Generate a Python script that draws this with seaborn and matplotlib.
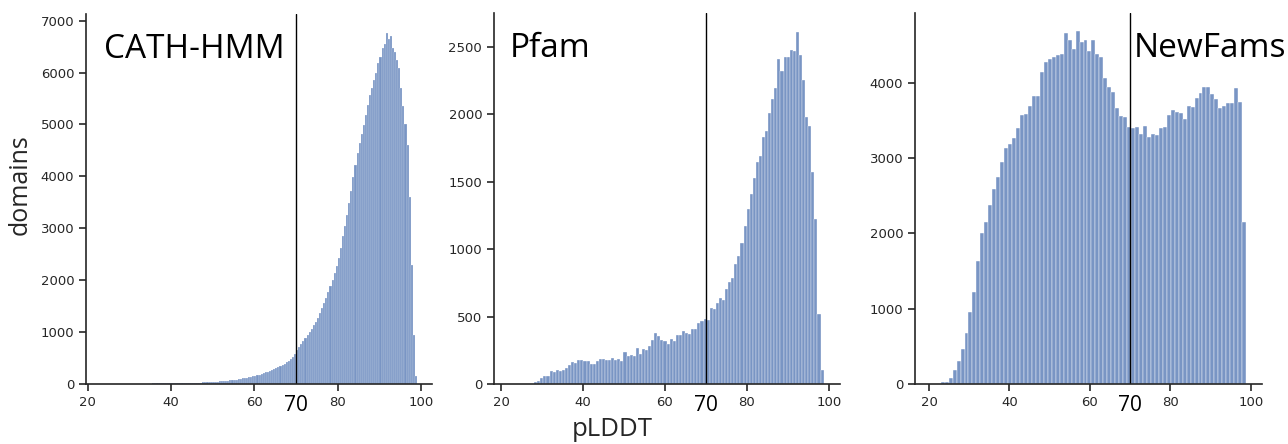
import numpy as np
import pandas as pd
import matplotlib
matplotlib.use("Agg")
import matplotlib.pyplot as plt
import matplotlib.transforms as mtransforms
import seaborn as sns

# pLDDT histograms per domain set (counts)
cath_edges = np.arange(25.0, 99.01, 0.5)
cath_counts = [
    1, 1, 2, 2, 2, 3, 3, 3, 4, 4,
    4, 5, 5, 6, 6, 7, 7, 8, 8, 9,
    9, 10, 10, 11, 11, 12, 12, 13, 13, 14,
    14, 15, 16, 16, 17, 18, 18, 19, 20, 21,
    22, 23, 25, 26, 28, 30, 32, 34, 36, 39,
    41, 44, 47, 50, 54, 57, 61, 65, 70, 75,
    80, 86, 92, 99, 106, 114, 122, 131, 140, 150,
    160, 170, 182, 195, 208, 222, 236, 250, 265, 282,
    300, 320, 342, 366, 392, 420, 450, 482, 520, 570,
    660, 720, 770, 820, 880, 940, 1000, 1060, 1130, 1200,
    1280, 1370, 1460, 1560, 1660, 1770, 1880, 2000, 2130, 2270,
    2420, 2620, 2850, 3050, 3260, 3480, 3720, 3980, 4220, 4450,
    4650, 4820, 4980, 5180, 5380, 5570, 5700, 5850, 6000, 6180,
    6300, 6480, 6550, 6760, 6650, 6700, 6480, 6400, 6250, 6080,
    5700, 5350, 5000, 4600, 3600, 2300, 950, 150,
]

pfam_edges = np.linspace(28.1, 98.7, 95)
pfam_counts = [
    15, 25, 42, 57, 62, 94, 87, 107, 97, 104,
    119, 144, 161, 156, 181, 178, 171, 174, 146, 151,
    174, 185, 183, 178, 176, 196, 176, 188, 171, 235,
    211, 218, 208, 265, 220, 257, 255, 280, 324, 381,
    359, 324, 317, 295, 334, 317, 363, 366, 393, 381,
    371, 411, 406, 453, 467, 480, 477, 567, 557, 601,
    641, 621, 705, 755, 787, 890, 947, 1046, 1170, 1298,
    1407, 1528, 1642, 1691, 1832, 1877, 2010, 2114, 2191, 2406,
    2322, 2421, 2426, 2475, 2468, 2611, 2438, 2253, 1976, 1912,
    1570, 1222, 522, 102,
]

newfam_edges = np.linspace(22.9, 98.85, 78)
newfam_counts = [
    22, 33, 80, 180, 312, 460, 678, 955, 1220, 1631,
    1999, 2158, 2375, 2588, 2743, 2942, 3129, 3182, 3261, 3398,
    3575, 3580, 3687, 3824, 3824, 4147, 4279, 4319, 4342, 4364,
    4386, 4657, 4568, 4444, 4683, 4537, 4563, 4422, 4568, 4382,
    4338, 4067, 3939, 3881, 3664, 3558, 3541, 3416, 3402, 3416,
    3318, 3425, 3275, 3322, 3305, 3394, 3416, 3571, 3637, 3611,
    3594, 3514, 3691, 3673, 3801, 3867, 3947, 3947, 3850, 3784,
    3660, 3691, 3727, 3736, 3926, 3748, 2153,
]

titles = ["CATH-HMM", "Pfam", "NewFams"]
cutoff = 70

sns.set_theme(style="ticks")
plt.rcParams["font.family"] = ["DejaVu Sans"]

fig = plt.figure(figsize=(12.88, 4.44), dpi=100)
W, H = 1288, 444

# axes boxes in pixels: left, top, width, height
boxes = [(86, 14, 346, 370), (494, 13, 346, 371), (915, 13, 347, 371)]
xlims = [(19.6, 102.6), (18.3, 102.7), (16.5, 102.8)]
ylims = [7128, 2750, 4927]
yticks = [np.arange(0, 7001, 1000), np.arange(0, 2501, 500), np.arange(0, 4001, 1000)]
title_x = [23.9, 22.2, 71.0]

panels = [(cath_edges, cath_counts), (pfam_edges, pfam_counts), (newfam_edges, newfam_counts)]

for i, (edges, counts) in enumerate(panels):
    l, t, w, h = boxes[i]
    ax = fig.add_axes([l / W, (H - t - h) / H, w / W, h / H])
    df = pd.DataFrame({"plddt": (edges[:-1] + edges[1:]) / 2, "n": counts})
    sns.histplot(data=df, x="plddt", weights="n", bins=list(edges), ax=ax)
    ax.axvline(cutoff, color="black", linewidth=1)
    ax.set_xlim(*xlims[i])
    ax.set_ylim(0, ylims[i])
    ax.set_xticks([20, 40, 60, 80, 100])
    ax.set_yticks(yticks[i])
    ax.set_xlabel("")
    ax.set_ylabel("")
    ax.tick_params(labelsize=9.5, colors=".15", length=5, width=1.2)
    for s in ["left", "bottom"]:
        ax.spines[s].set_linewidth(1.2)
        ax.spines[s].set_color(".15")
    sns.despine(ax=ax)

    trans = mtransforms.blended_transform_factory(ax.transData, ax.transAxes)
    ax.text(cutoff, -0.03, "70", transform=trans, ha="center", va="top",
            fontsize=15, family="Open Sans", color="black")
    ax.text(title_x[i], 0.881, titles[i], transform=trans, ha="left", va="baseline",
            fontsize=24, family="Open Sans", color="black")

fig.text(20 / W, (H - 185) / H, "domains", rotation=90, ha="center", va="center",
         fontsize=18, family="Open Sans")
fig.text(612 / W, 8 / H, "pLDDT", ha="center", va="baseline",
         fontsize=18.5, family="Open Sans")

fig.savefig("out.png", dpi=100)
